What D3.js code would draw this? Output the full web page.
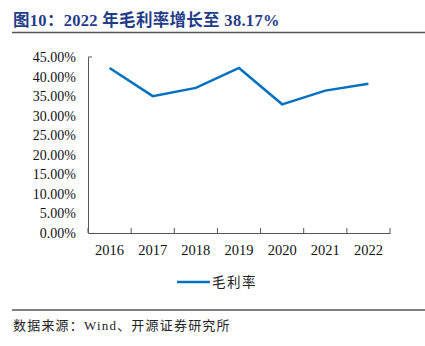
<!DOCTYPE html>
<html><head><meta charset="utf-8">
<script src="https://cdn.jsdelivr.net/npm/d3@7"></script>
<style>
body{margin:0;background:#fff;}
svg{display:block;}
</style></head>
<body>
<script>
const years = ["2016","2017","2018","2019","2020","2021","2022"];
const grossMargin = [42.2, 35.0, 37.1, 42.2, 32.9, 36.4, 38.17];
const yTicks = [0,5,10,15,20,25,30,35,40,45];
const titleText = "图10：2022 年毛利率增长至 38.17%";
const seriesName = "毛利率";
const sourceText = "数据来源：Wind、开源证券研究所";

const W = 425, H = 346;
const svg = d3.select("body").append("svg").attr("width", W).attr("height", H);
const serif = "'Liberation Serif','DejaVu Serif',serif";
const cjk = "'Liberation Serif','Noto Sans CJK SC',serif";

// Title
svg.append("text").attr("x", 13).attr("y", 26)
  .attr("font-family", cjk).attr("font-size", 16.5).attr("font-weight", "bold")
  .attr("letter-spacing", 0.3)
  .attr("fill", "#1f3c88").text(titleText);
svg.append("line").attr("x1", 12).attr("x2", 425).attr("y1", 32.5).attr("y2", 32.5)
  .attr("stroke", "#555").attr("stroke-width", 1.3);

const x = d3.scaleBand().domain(years).range([88, 390]);
const y = d3.scaleLinear().domain([0, 45]).range([233, 57]);

const g = svg.append("g");
const yAxis = g.append("g").attr("transform", "translate(88,0)")
  .call(d3.axisLeft(y).tickValues(yTicks).tickSize(0).tickPadding(12)
    .tickFormat(d => d.toFixed(2) + "%"));
yAxis.select(".domain").attr("stroke", "#555");
yAxis.selectAll("text").attr("font-family", serif).attr("font-size", 14).attr("fill", "#111");
g.append("line").attr("x1", 88).attr("x2", 92).attr("y1", 57).attr("y2", 57).attr("stroke", "#555");

const xAxis = g.append("g").attr("transform", "translate(0,233)")
  .call(d3.axisBottom(x).tickSize(0).tickPadding(12));
xAxis.select(".domain").attr("stroke", "#555");
xAxis.selectAll("text").attr("font-family", serif).attr("font-size", 14.5).attr("fill", "#111");
const bounds = years.map(d => x(d)).concat([x.range()[1]]);
g.selectAll(".bt").data(bounds).enter().append("line")
  .attr("x1", d => d).attr("x2", d => d).attr("y1", 233).attr("y2", 228)
  .attr("stroke", "#555");

// Line
const line = d3.line().x((d, i) => x(years[i]) + x.bandwidth() / 2).y(d => y(d));
g.append("path").datum(grossMargin).attr("d", line)
  .attr("fill", "none").attr("stroke", "#0070c0").attr("stroke-width", 2.5)
  .attr("stroke-linejoin", "miter");

// Legend
svg.append("line").attr("x1", 177).attr("x2", 210).attr("y1", 282).attr("y2", 282)
  .attr("stroke", "#0070c0").attr("stroke-width", 2.5);
svg.append("text").attr("x", 212).attr("y", 287).attr("font-family", cjk)
  .attr("font-size", 13.5).attr("letter-spacing", 1.5).attr("fill", "#222").text(seriesName);

// Footer
svg.append("line").attr("x1", 12).attr("x2", 425).attr("y1", 310).attr("y2", 310)
  .attr("stroke", "#555").attr("stroke-width", 1.3);
svg.append("text").attr("x", 13).attr("y", 330).attr("font-family", cjk)
  .attr("font-size", 13).attr("letter-spacing", 1.2).attr("fill", "#222").text(sourceText);
</script>
</body></html>
